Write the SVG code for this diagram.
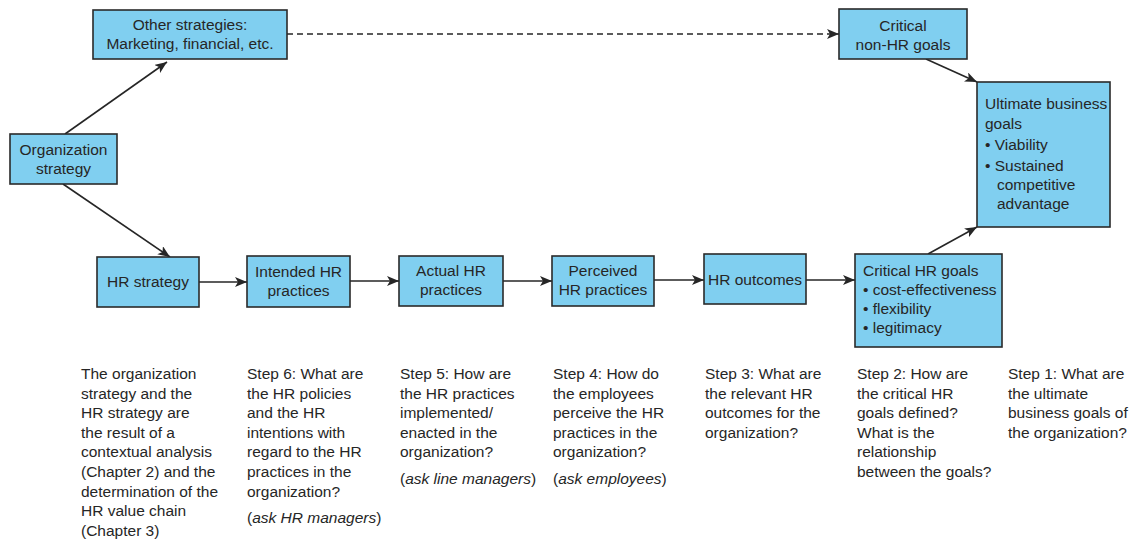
<svg xmlns="http://www.w3.org/2000/svg" width="1136" height="542" viewBox="0 0 1136 542">
<style>
.box{fill:#80cff0;stroke:#2a2a2a;stroke-width:1.6}
text{font-family:"Liberation Sans",Arial,sans-serif;font-size:15.5px;fill:#262626}
.c{text-anchor:middle}
.i{font-style:italic}
.ln{stroke:#262626;stroke-width:1.6;fill:none}
.dash{stroke-dasharray:6 4}
</style>
<defs>
<marker id="ah" viewBox="0 0 12 10" refX="12" refY="5" markerWidth="12" markerHeight="10" markerUnits="userSpaceOnUse" orient="auto">
<path d="M0,0 L12,5 L0,10 L3,5 z" fill="#262626"/>
</marker>
</defs>
<rect width="1136" height="542" fill="#ffffff"/>
<g id="connectors">
<line class="ln" x1="65" y1="134" x2="167" y2="62" marker-end="url(#ah)"/>
<line class="ln" x1="63" y1="184" x2="170" y2="257" marker-end="url(#ah)"/>
<line class="ln dash" x1="287" y1="34" x2="839" y2="34" marker-end="url(#ah)"/>
<line class="ln" x1="199" y1="282" x2="247" y2="282" marker-end="url(#ah)"/>
<line class="ln" x1="350" y1="281" x2="399" y2="281" marker-end="url(#ah)"/>
<line class="ln" x1="503" y1="281" x2="552" y2="281" marker-end="url(#ah)"/>
<line class="ln" x1="654" y1="280" x2="704" y2="280" marker-end="url(#ah)"/>
<line class="ln" x1="806" y1="280" x2="855" y2="280" marker-end="url(#ah)"/>
<line class="ln" x1="926" y1="59" x2="977" y2="82" marker-end="url(#ah)"/>
<line class="ln" x1="928" y1="254" x2="977" y2="227" marker-end="url(#ah)"/>
</g>
<g id="other-strategies">
<rect class="box" x="93" y="10" width="194" height="49"/>
<text class="c" x="190" y="30">Other strategies:</text>
<text class="c" x="190" y="49">Marketing, financial, etc.</text>
</g>
<g id="critical-non-hr">
<rect class="box" x="839" y="9" width="128" height="50"/>
<text class="c" x="903" y="31">Critical</text>
<text class="c" x="903" y="50">non-HR goals</text>
</g>
<g id="organization-strategy">
<rect class="box" x="10" y="134" width="107" height="50"/>
<text class="c" x="63.5" y="155">Organization</text>
<text class="c" x="63.5" y="174">strategy</text>
</g>
<g id="hr-strategy">
<rect class="box" x="97" y="257" width="102" height="50"/>
<text class="c" x="148" y="287">HR strategy</text>
</g>
<g id="intended">
<rect class="box" x="247" y="256" width="103" height="51"/>
<text class="c" x="298.5" y="277">Intended HR</text>
<text class="c" x="298.5" y="296">practices</text>
</g>
<g id="actual">
<rect class="box" x="399" y="256" width="104" height="50"/>
<text class="c" x="451" y="276">Actual HR</text>
<text class="c" x="451" y="295">practices</text>
</g>
<g id="perceived">
<rect class="box" x="552" y="256" width="102" height="50"/>
<text class="c" x="603" y="276">Perceived</text>
<text class="c" x="603" y="295">HR practices</text>
</g>
<g id="hr-outcomes">
<rect class="box" x="704" y="254" width="102" height="50"/>
<text class="c" x="755" y="285">HR outcomes</text>
</g>
<g id="critical-hr-goals">
<rect class="box" x="855" y="254" width="147" height="93"/>
<text x="863" y="276">Critical HR goals</text>
<text x="863" y="295">• cost-effectiveness</text>
<text x="863" y="314">• flexibility</text>
<text x="863" y="333">• legitimacy</text>
</g>
<g id="ultimate-goals">
<rect class="box" x="977" y="82" width="133" height="145"/>
<text x="985" y="109">Ultimate business</text>
<text x="985" y="129">goals</text>
<text x="985" y="150">• Viability</text>
<text x="985" y="171">• Sustained</text>
<text x="997" y="190">competitive</text>
<text x="997" y="209">advantage</text>
</g>
<g id="notes">
<text x="81" y="379">The organization</text>
<text x="81" y="398.6">strategy and the</text>
<text x="81" y="418.2">HR strategy are</text>
<text x="81" y="437.8">the result of a</text>
<text x="81" y="457.4">contextual analysis</text>
<text x="81" y="477">(Chapter 2) and the</text>
<text x="81" y="496.6">determination of the</text>
<text x="81" y="516.2">HR value chain</text>
<text x="81" y="535.8">(Chapter 3)</text>

<text x="247" y="379">Step 6: What are</text>
<text x="247" y="398.6">the HR policies</text>
<text x="247" y="418.2">and the HR</text>
<text x="247" y="437.8">intentions with</text>
<text x="247" y="457.4">regard to the HR</text>
<text x="247" y="477">practices in the</text>
<text x="247" y="496.6">organization?</text>
<text x="247" y="523">(<tspan class="i">ask HR managers</tspan>)</text>

<text x="400" y="379">Step 5: How are</text>
<text x="400" y="398.6">the HR practices</text>
<text x="400" y="418.2">implemented/</text>
<text x="400" y="437.8">enacted in the</text>
<text x="400" y="457.4">organization?</text>
<text x="400" y="484">(<tspan class="i">ask line managers</tspan>)</text>

<text x="553" y="379">Step 4: How do</text>
<text x="553" y="398.6">the employees</text>
<text x="553" y="418.2">perceive the HR</text>
<text x="553" y="437.8">practices in the</text>
<text x="553" y="457.4">organization?</text>
<text x="553" y="484">(<tspan class="i">ask employees</tspan>)</text>

<text x="705" y="379">Step 3: What are</text>
<text x="705" y="398.6">the relevant HR</text>
<text x="705" y="418.2">outcomes for the</text>
<text x="705" y="437.8">organization?</text>

<text x="857" y="379">Step 2: How are</text>
<text x="857" y="398.6">the critical HR</text>
<text x="857" y="418.2">goals defined?</text>
<text x="857" y="437.8">What is the</text>
<text x="857" y="457.4">relationship</text>
<text x="857" y="477">between the goals?</text>

<text x="1008" y="379">Step 1: What are</text>
<text x="1008" y="398.6">the ultimate</text>
<text x="1008" y="418.2">business goals of</text>
<text x="1008" y="437.8">the organization?</text>
</g>
</svg>
